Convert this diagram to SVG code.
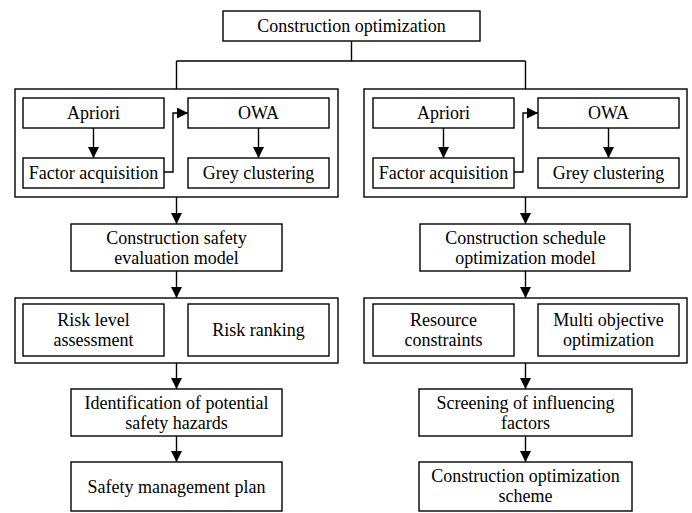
<svg xmlns="http://www.w3.org/2000/svg" width="692" height="513" viewBox="0 0 692 513">
<defs>
<style>
.b{fill:#fff;stroke:#000;stroke-width:1.4}
.t{font-family:'Liberation Serif','Times New Roman','DejaVu Serif',serif;font-size:18px;fill:#000;text-anchor:middle}
.c{fill:none;stroke:#000;stroke-width:1.4}
.a{fill:none;stroke:#000;stroke-width:1.4;marker-end:url(#ah)}
</style>
<marker id="ah" markerUnits="userSpaceOnUse" markerWidth="12" markerHeight="12" refX="11" refY="5.5" orient="auto">
<path d="M0,0 L11,5.5 L0,11 z" fill="#000"/>
</marker>
</defs>
<rect width="692" height="513" fill="#fff"/>
<g font-family="Liberation Serif, Times New Roman, serif">
<g id="top"><rect class="b" x="223" y="11" width="257" height="30"/><text class="t" x="351.5" y="32">Construction optimization</text></g>
<g id="left-group1"><rect class="b" x="15" y="89" width="323" height="108"/></g>
<g id="l-apriori"><rect class="b" x="23" y="98" width="141" height="30"/><text class="t" x="93.5" y="119">Apriori</text></g>
<g id="l-owa"><rect class="b" x="188" y="98" width="141" height="30"/><text class="t" x="258.5" y="119">OWA</text></g>
<g id="l-factor"><rect class="b" x="23" y="158" width="141" height="30"/><text class="t" x="93.5" y="179">Factor acquisition</text></g>
<g id="l-grey"><rect class="b" x="188" y="158" width="141" height="30"/><text class="t" x="258.5" y="179">Grey clustering</text></g>
<g id="right-group1"><rect class="b" x="364" y="89" width="323" height="108"/></g>
<g id="r-apriori"><rect class="b" x="373" y="98" width="141" height="30"/><text class="t" x="443.5" y="119">Apriori</text></g>
<g id="r-owa"><rect class="b" x="538" y="98" width="141" height="30"/><text class="t" x="608.5" y="119">OWA</text></g>
<g id="r-factor"><rect class="b" x="373" y="158" width="141" height="30"/><text class="t" x="443.5" y="179">Factor acquisition</text></g>
<g id="r-grey"><rect class="b" x="538" y="158" width="141" height="30"/><text class="t" x="608.5" y="179">Grey clustering</text></g>
<g id="safety-eval"><rect class="b" x="71" y="224" width="211" height="47"/><text class="t" x="176.5" y="243.5">Construction safety</text><text class="t" x="176.5" y="263.5">evaluation model</text></g>
<g id="schedule-opt"><rect class="b" x="420" y="224" width="210" height="47"/><text class="t" x="525.5" y="243.5">Construction schedule</text><text class="t" x="525.5" y="263.5">optimization model</text></g>
<g id="left-group2"><rect class="b" x="15" y="298" width="323" height="65"/></g>
<g id="risk-level"><rect class="b" x="23" y="304" width="141" height="52"/><text class="t" x="93.5" y="326">Risk level</text><text class="t" x="93.5" y="346">assessment</text></g>
<g id="risk-ranking"><rect class="b" x="188" y="304" width="141" height="52"/><text class="t" x="258.5" y="336">Risk ranking</text></g>
<g id="right-group2"><rect class="b" x="364" y="298" width="323" height="65"/></g>
<g id="resource"><rect class="b" x="373" y="304" width="141" height="52"/><text class="t" x="443.5" y="326">Resource</text><text class="t" x="443.5" y="346">constraints</text></g>
<g id="multi"><rect class="b" x="538" y="304" width="141" height="52"/><text class="t" x="608.5" y="326">Multi objective</text><text class="t" x="608.5" y="346">optimization</text></g>
<g id="identification"><rect class="b" x="71" y="389" width="211" height="47"/><text class="t" x="176.5" y="408.5">Identification of potential</text><text class="t" x="176.5" y="428.5">safety hazards</text></g>
<g id="screening"><rect class="b" x="419" y="389" width="213" height="47"/><text class="t" x="525.5" y="408.5">Screening of influencing</text><text class="t" x="525.5" y="428.5">factors</text></g>
<g id="safety-plan"><rect class="b" x="71" y="462" width="211" height="49"/><text class="t" x="176.5" y="492.5">Safety management plan</text></g>
<g id="opt-scheme"><rect class="b" x="419" y="462" width="213" height="49"/><text class="t" x="525.5" y="482">Construction optimization</text><text class="t" x="525.5" y="502">scheme</text></g>
</g>
<g id="connectors">
<path class="c" d="M351.5,41 V61 M176.5,61 H525.5 M176.5,61 V89 M525.5,61 V89"/>
<path class="a" d="M93.5,128 V158"/>
<path class="a" d="M258.5,128 V158"/>
<path class="a" d="M164,172 H173 V113 H188"/>
<path class="a" d="M443.5,128 V158"/>
<path class="a" d="M608.5,128 V158"/>
<path class="a" d="M514,172 H523 V113 H538"/>
<path class="a" d="M176.5,197 V224"/>
<path class="a" d="M176.5,271 V298"/>
<path class="a" d="M176.5,363 V389"/>
<path class="a" d="M176.5,436 V462"/>
<path class="a" d="M525.5,197 V224"/>
<path class="a" d="M525.5,271 V298"/>
<path class="a" d="M525.5,363 V389"/>
<path class="a" d="M525.5,436 V462"/>
</g>
</svg>
